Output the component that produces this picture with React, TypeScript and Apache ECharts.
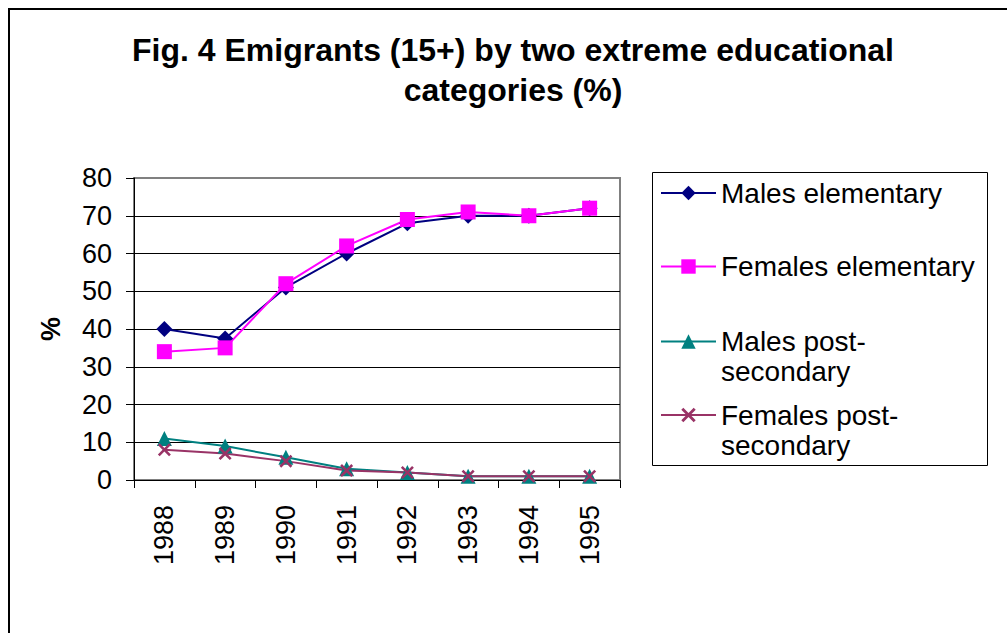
import React, { useEffect, useRef } from "react";
import * as echarts from "echarts";

const years = ["1988", "1989", "1990", "1991", "1992", "1993", "1994", "1995"];
const malesElementary = [40, 37.5, 51, 60, 68, 70, 70, 72];
const femalesElementary = [34, 35, 52, 62, 69, 71, 70, 72];
const malesPostSecondary = [11, 9, 6, 3, 2, 1, 1, 1];
const femalesPostSecondary = [8, 7, 5, 2.5, 2, 1, 1, 1];

const seriesNames = [
  "Males elementary",
  "Females elementary",
  "Males post-secondary",
  "Females post-secondary",
];
const legendLabels = [
  "Males elementary",
  "Females elementary",
  "\nMales post-\nsecondary",
  "\nFemales post-\nsecondary",
];
const titleText = "Fig. 4 Emigrants (15+) by two extreme educational\ncategories (%)";
const yAxisName = "%";

const FONT = "'Liberation Sans', Arial, sans-serif";
const X_SYMBOL =
  "path://M0,1.4 L1.4,0 L5,3.6 L8.6,0 L10,1.4 L6.4,5 L10,8.6 L8.6,10 L5,6.4 L1.4,10 L0,8.6 L3.6,5 Z";

export default function App() {
  const ref = useRef<HTMLDivElement>(null);

  useEffect(() => {
    if (!ref.current) return;
    const chart = echarts.init(ref.current, null, { renderer: "svg" });

    const colors = ["#000080", "#FF00FF", "#008080", "#993366"];
    const symbols = ["diamond", "rect", "triangle", X_SYMBOL];
    const sizes = [16, 15, 15, 13];
    const values = [malesElementary, femalesElementary, malesPostSecondary, femalesPostSecondary];
    const legendTops = [170, 243.5, 288.5, 362];

    const legends = seriesNames.map((name, i) => ({
      data: [name],
      left: 652,
      top: legendTops[i],
      orient: "vertical",
      padding: 0,
      itemGap: 0,
      itemWidth: 55,
      itemHeight: 18,
      formatter: () => legendLabels[i],
      textStyle: {
        fontFamily: FONT,
        fontSize: 28,
        lineHeight: 30,
        color: "#000",
      },
    }));

    chart.setOption({
      animation: false,
      backgroundColor: "#fff",
      title: {
        text: titleText,
        left: 505,
        top: 22,
        textAlign: "center",
        padding: 0,
        textStyle: {
          fontFamily: FONT,
          fontSize: 32,
          fontWeight: "bold",
          lineHeight: 40,
          color: "#000",
        },
      },
      graphic: [
        {
          type: "rect",
          shape: { x: 1, y: 1, width: 3000, height: 3000 },
          style: { fill: "none", stroke: "#000", lineWidth: 2 },
          silent: true,
        },
        {
          type: "rect",
          shape: { x: 644.5, y: 164.5, width: 335, height: 293 },
          style: { fill: "none", stroke: "#000", lineWidth: 1 },
          silent: true,
        },
      ],
      legend: legends,
      grid: {
        left: 126,
        top: 170,
        right: 387,
        bottom: 153,
        show: true,
        borderColor: "#808080",
        borderWidth: 2,
        backgroundColor: "transparent",
      },
      xAxis: {
        type: "category",
        data: years,
        boundaryGap: true,
        axisLine: { show: true, lineStyle: { color: "#000", width: 1 } },
        axisTick: { show: true, length: 8, alignWithLabel: false, lineStyle: { color: "#000" } },
        axisLabel: {
          rotate: 90,
          margin: 25,
          fontFamily: FONT,
          fontSize: 27,
          color: "#000",
        },
        splitLine: { show: false },
      },
      yAxis: {
        type: "value",
        min: 0,
        max: 80,
        interval: 10,
        name: yAxisName,
        nameLocation: "middle",
        nameRotate: 90,
        nameGap: 70,
        nameTextStyle: {
          fontFamily: FONT,
          fontSize: 27,
          fontWeight: "bold",
          color: "#000",
        },
        axisLine: { show: true, lineStyle: { color: "#000", width: 1 } },
        axisTick: { show: true, length: 8, lineStyle: { color: "#000" } },
        axisLabel: {
          margin: 22,
          fontFamily: FONT,
          fontSize: 27,
          color: "#000",
        },
        splitLine: {
          show: true,
          lineStyle: {
            color: ["#000", "#000", "#000", "#000", "#000", "#000", "#000", "#000", "#808080"],
            width: 1,
          },
        },
      },
      series: seriesNames.map((name, i) => ({
        name,
        type: "line",
        data: values[i],
        symbol: symbols[i],
        symbolSize: sizes[i],
        showAllSymbol: true,
        lineStyle: { color: colors[i], width: 2 },
        itemStyle: { color: colors[i] },
        emphasis: { disabled: true },
      })),
    });

    return () => {
      chart.dispose();
    };
  }, []);

  return (
    <div
      ref={ref}
      style={{ position: "absolute", left: 8, top: 8, width: 999, height: 625 }}
    />
  );
}
